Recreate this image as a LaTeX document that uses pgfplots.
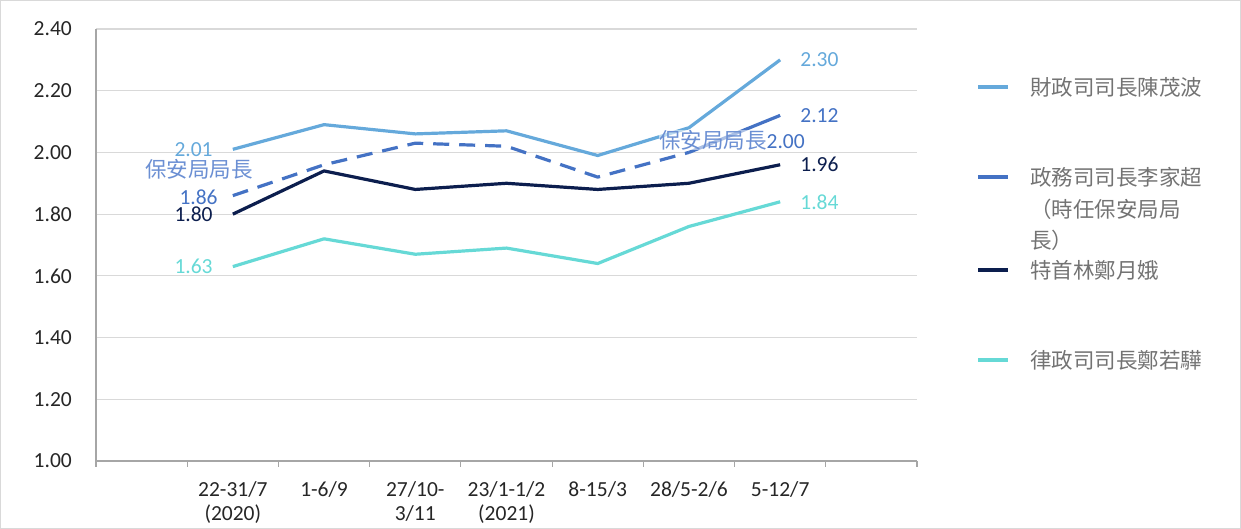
\documentclass[border=0pt]{standalone}
\usepackage{pgfplots}
\pgfplotsset{compat=1.18}
\usepackage{fontspec}
\setmainfont{Carlito}
\newfontfamily\cjk{Noto Sans CJK TC}
\definecolor{cA}{HTML}{65A9DB}
\definecolor{cB}{HTML}{4472C4}
\definecolor{cC}{HTML}{0C1E4E}
\definecolor{cD}{HTML}{66D9D6}
\definecolor{cBl}{HTML}{6B8FD3}
\definecolor{gridc}{HTML}{D9D9D9}
\definecolor{axc}{HTML}{A6A6A6}
\definecolor{legt}{HTML}{737373}
\begin{document}
\begin{tikzpicture}
\path[use as bounding box] (0,0) rectangle (1241pt,529pt);
\draw[gray!30, line width=1pt] (0.5pt,0.5pt) rectangle (1240.5pt,528.5pt);
\begin{axis}[
  at={(96pt,68pt)}, anchor=south west,
  scale only axis, width=821pt, height=432pt,
  xmin=0, xmax=9, ymin=1, ymax=2.4,
  axis lines*=left,
  axis line style={axc, line width=1.2pt, -},
  xtick={1.5,2.5,3.5,4.5,5.5,6.5,7.5},
  xticklabels={{22-31/7\\(2020)},{1-6/9},{27/10-\\3/11},{23/1-1/2\\(2021)},{8-15/3},{28/5-2/6},{5-12/7}},
  minor xtick={0,1,2,3,4,5,6,7,8,9},
  major tick length=0pt,
  minor tick length=6pt,
  tick align=outside,
  x tick style={axc, line width=1.2pt},
  y tick style={draw=none},
  ytick={1,1.2,1.4,1.6,1.8,2,2.2,2.4},
  ymajorgrids,
  major grid style={gridc, line width=1.2pt},
  yticklabel style={/pgf/number format/fixed, /pgf/number format/fixed zerofill, /pgf/number format/precision=2, /pgf/number format/assume math mode=true},
  yticklabel style={inner sep=0pt, xshift=-24pt, font=\fontsize{21.5}{26}\selectfont, text=black!85},
  xticklabel style={align=center, inner sep=0pt, yshift=-20pt, font=\fontsize{21.5}{24.5}\selectfont, text=black!85},
  every axis plot/.append style={line width=3.2pt, line join=round},
  clip=false,
]
\addplot[cA] coordinates {(1.5,2.01)(2.5,2.09)(3.5,2.06)(4.5,2.07)(5.5,1.99)(6.5,2.08)(7.5,2.30)};
\addplot[cB] coordinates {(6.5,2.00)(7.5,2.12)};
\addplot[cB, dash pattern=on 16pt off 10pt] coordinates {(1.5,1.86)(2.5,1.96)(3.5,2.03)(4.5,2.02)(5.5,1.92)(6.5,2.00)};
\addplot[cC] coordinates {(1.5,1.80)(2.5,1.94)(3.5,1.88)(4.5,1.90)(5.5,1.88)(6.5,1.90)(7.5,1.96)};
\addplot[cD] coordinates {(1.5,1.63)(2.5,1.72)(3.5,1.67)(4.5,1.69)(5.5,1.64)(6.5,1.76)(7.5,1.84)};
% data labels
\begin{scope}[every node/.style={inner sep=0pt, font=\fontsize{21.5}{26}\selectfont}]
\node[anchor=east, text=cA, xshift=-20pt] at (axis cs:1.5,2.01) {2.01};
\node[text=cBl, xshift=-34pt, yshift=26pt, font=\cjk\fontsize{21.5}{26}\selectfont] at (axis cs:1.5,1.86) {保安局局長};
\node[anchor=east, text=cB, xshift=-15pt, yshift=-2pt] at (axis cs:1.5,1.86) {1.86};
\node[anchor=east, text=cC, xshift=-20pt] at (axis cs:1.5,1.80) {1.80};
\node[anchor=east, text=cD, xshift=-20pt] at (axis cs:1.5,1.63) {1.63};
\node[anchor=west, text=cA, xshift=20pt] at (axis cs:7.5,2.30) {2.30};
\node[anchor=west, text=cB, xshift=20pt] at (axis cs:7.5,2.12) {2.12};
\node[anchor=west, text=cC, xshift=20pt] at (axis cs:7.5,1.96) {1.96};
\node[anchor=west, text=cD, xshift=20pt] at (axis cs:7.5,1.84) {1.84};
\node[fill=white, fill opacity=0.55, text opacity=1, xshift=43pt, yshift=12pt] at (axis cs:6.5,2.00) {{\cjk\color{cBl}保安局局長}{\color{cB}2.00}};
\end{scope}
\end{axis}
% legend
\begin{scope}[every node/.style={inner sep=0pt, anchor=west, text=legt, font=\cjk\fontsize{21.5}{26}\selectfont}]
\draw[cA, line width=3.2pt] (978pt,442pt) -- (1008pt,442pt);
\node at (1030pt,442pt) {財政司司長陳茂波};
\draw[cB, line width=3.2pt] (978pt,352pt) -- (1008pt,352pt);
\node at (1030pt,352pt) {政務司司長李家超};
\node at (1030pt,320pt) {（時任保安局局};
\node at (1030pt,289pt) {長）};
\draw[cC, line width=3.2pt] (978pt,259pt) -- (1008pt,259pt);
\node at (1030pt,259pt) {特首林鄭月娥};
\draw[cD, line width=3.2pt] (978pt,169pt) -- (1008pt,169pt);
\node at (1030pt,169pt) {律政司司長鄭若驊};
\end{scope}
\end{tikzpicture}
\end{document}
